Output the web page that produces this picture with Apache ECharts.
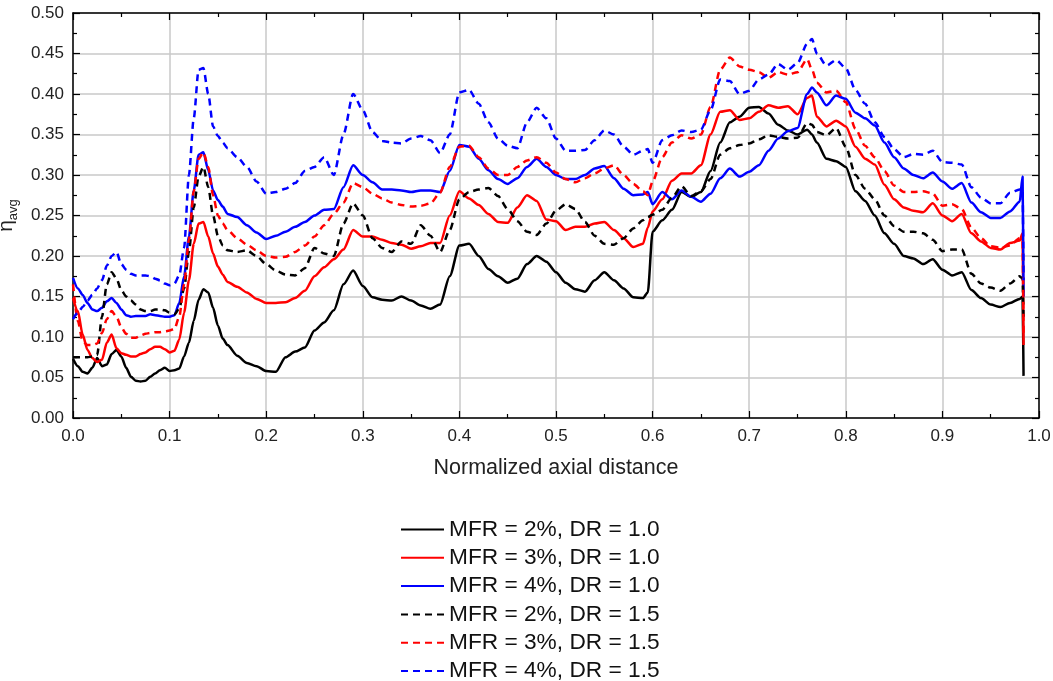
<!DOCTYPE html>
<html>
<head>
<meta charset="utf-8">
<script src="https://cdn.jsdelivr.net/npm/echarts@6/dist/echarts.min.js"></script>
<style>
html,body{margin:0;padding:0;background:#fff;}
#chart{width:1053px;height:681px;}
</style>
</head>
<body>
<div id="chart"></div>
<script>
// Normalized axial distance (shared sample positions)
const xs = [0,0.005,0.01,0.015,0.02,0.025,0.03,0.035,0.04,0.045,0.05,0.055,0.06,0.065,0.07,0.075,0.08,0.085,0.09,0.095,0.1,0.105,0.11,0.115,0.12,0.125,0.13,0.135,0.14,0.145,0.15,0.155,0.16,
0.17,0.18,0.19,0.2,0.21,0.22,0.23,0.24,0.25,0.26,0.27,0.28,0.29,0.3,0.31,0.32,0.33,
0.34,0.35,0.36,0.37,0.38,0.39,0.4,0.41,0.42,0.43,0.44,0.45,0.46,0.47,0.48,0.49,0.5,
0.51,0.52,0.53,0.54,0.55,0.56,0.57,0.58,0.59,0.595,
0.6,0.61,0.62,0.63,0.64,0.65,0.66,0.67,0.68,0.69,0.7,0.71,0.72,0.73,0.74,0.75,0.76,0.765,
0.77,0.78,0.79,0.8,0.81,0.82,0.83,0.84,0.85,0.86,0.87,0.88,0.89,0.9,0.91,0.92,0.93,0.94,0.95,0.96,0.97,0.98,0.983,0.984];

// MFR = 2%, DR = 1.0
const mfr2dr10 = [0.073,0.064,0.057,0.055,0.062,0.074,0.064,0.066,0.079,0.084,0.076,0.062,0.051,0.046,0.045,0.046,0.051,0.055,0.059,0.062,0.058,0.059,0.061,0.076,0.093,0.12,0.146,0.159,0.155,0.136,0.114,0.098,0.09,
0.077,0.068,0.064,0.058,0.057,0.075,0.082,0.087,0.108,0.118,0.133,0.165,0.182,0.163,0.149,0.146,0.145,
0.15,0.145,0.139,0.135,0.14,0.175,0.213,0.215,0.2,0.184,0.175,0.167,0.172,0.19,0.2,0.193,0.18,
0.167,0.159,0.156,0.17,0.18,0.17,0.16,0.149,0.148,0.155,
0.23,0.244,0.257,0.279,0.273,0.279,0.305,0.34,0.365,0.372,0.383,0.384,0.376,0.362,0.355,0.35,0.356,0.35,
0.34,0.32,0.317,0.31,0.28,0.268,0.25,0.228,0.215,0.2,0.197,0.19,0.196,0.183,0.176,0.18,0.158,0.148,0.14,0.137,0.142,0.147,0.15,0.052];

// MFR = 3%, DR = 1.0
const mfr3dr10 = [0.148,0.132,0.103,0.084,0.074,0.069,0.072,0.093,0.103,0.086,0.08,0.078,0.076,0.076,0.079,0.081,0.085,0.088,0.088,0.085,0.081,0.083,0.097,0.13,0.17,0.215,0.24,0.242,0.224,0.203,0.187,0.177,0.168,
0.162,0.155,0.147,0.142,0.142,0.143,0.148,0.157,0.175,0.186,0.196,0.208,0.232,0.224,0.224,0.22,0.216,
0.214,0.209,0.212,0.216,0.216,0.25,0.28,0.271,0.263,0.252,0.242,0.241,0.26,0.275,0.268,0.245,0.243,
0.232,0.236,0.236,0.24,0.242,0.232,0.222,0.211,0.215,0.235,
0.255,0.27,0.293,0.302,0.302,0.312,0.35,0.378,0.38,0.368,0.37,0.378,0.386,0.383,0.385,0.375,0.395,0.398,
0.372,0.36,0.367,0.36,0.335,0.32,0.313,0.288,0.27,0.26,0.256,0.254,0.265,0.25,0.243,0.252,0.228,0.218,0.21,0.208,0.216,0.219,0.228,0.09];

// MFR = 4%, DR = 1.0
const mfr4dr10 = [0.173,0.16,0.152,0.142,0.134,0.132,0.136,0.144,0.148,0.142,0.134,0.127,0.125,0.126,0.126,0.126,0.128,0.127,0.126,0.125,0.125,0.127,0.142,0.175,0.224,0.281,0.325,0.328,0.306,0.281,0.269,0.261,0.252,
0.248,0.238,0.229,0.221,0.225,0.23,0.236,0.242,0.25,0.257,0.258,0.285,0.312,0.3,0.291,0.282,0.282,
0.281,0.279,0.281,0.281,0.279,0.305,0.337,0.335,0.32,0.306,0.295,0.289,0.296,0.31,0.32,0.31,0.3,
0.295,0.295,0.3,0.308,0.311,0.296,0.283,0.275,0.276,0.279,
0.264,0.279,0.27,0.281,0.273,0.267,0.277,0.296,0.308,0.298,0.304,0.312,0.33,0.345,0.354,0.358,0.4,0.408,
0.402,0.386,0.398,0.394,0.377,0.37,0.361,0.34,0.322,0.308,0.3,0.296,0.303,0.292,0.283,0.29,0.266,0.254,0.247,0.247,0.255,0.267,0.298,0.15];

// MFR = 2%, DR = 1.5
const mfr2dr15 = [0.075,0.075,0.075,0.075,0.076,0.078,0.125,0.165,0.18,0.172,0.158,0.15,0.145,0.14,0.134,0.132,0.132,0.134,0.134,0.133,0.13,0.128,0.135,0.16,0.205,0.26,0.298,0.31,0.285,0.25,0.225,0.213,0.207,
0.205,0.207,0.2,0.19,0.182,0.177,0.176,0.185,0.21,0.203,0.2,0.24,0.265,0.25,0.222,0.21,0.205,
0.218,0.215,0.238,0.225,0.205,0.232,0.27,0.279,0.282,0.284,0.274,0.258,0.243,0.23,0.226,0.24,0.256,
0.264,0.258,0.242,0.225,0.215,0.214,0.222,0.234,0.244,0.248,
0.251,0.257,0.272,0.286,0.274,0.28,0.295,0.325,0.333,0.337,0.339,0.344,0.349,0.347,0.345,0.346,0.364,0.362,
0.353,0.349,0.358,0.335,0.3,0.283,0.27,0.25,0.237,0.23,0.23,0.228,0.22,0.206,0.208,0.208,0.178,0.166,0.161,0.157,0.166,0.175,0.172,0.12];

// MFR = 3%, DR = 1.5
const mfr3dr15 = [0.165,0.12,0.095,0.09,0.09,0.092,0.105,0.122,0.132,0.125,0.112,0.104,0.099,0.099,0.102,0.104,0.105,0.106,0.106,0.107,0.108,0.11,0.125,0.165,0.22,0.28,0.32,0.328,0.31,0.275,0.25,0.24,0.232,
0.222,0.214,0.207,0.2,0.198,0.199,0.205,0.213,0.224,0.238,0.252,0.266,0.29,0.285,0.277,0.271,0.266,
0.263,0.261,0.262,0.265,0.278,0.31,0.335,0.336,0.322,0.308,0.3,0.3,0.31,0.318,0.322,0.315,0.303,
0.295,0.291,0.296,0.302,0.308,0.312,0.3,0.289,0.28,0.275,
0.292,0.322,0.34,0.349,0.345,0.35,0.384,0.43,0.445,0.434,0.43,0.427,0.42,0.427,0.424,0.427,0.443,0.43,
0.414,0.402,0.404,0.39,0.357,0.336,0.322,0.305,0.287,0.279,0.279,0.28,0.277,0.262,0.264,0.258,0.235,0.222,0.212,0.21,0.213,0.222,0.218,0.1];

// MFR = 4%, DR = 1.5
const mfr4dr15 = [0.122,0.13,0.137,0.145,0.152,0.16,0.17,0.188,0.2,0.205,0.19,0.183,0.178,0.176,0.176,0.176,0.175,0.172,0.17,0.166,0.164,0.166,0.176,0.21,0.3,0.37,0.43,0.432,0.4,0.36,0.348,0.34,0.333,
0.322,0.31,0.292,0.277,0.279,0.283,0.29,0.305,0.31,0.322,0.3,0.35,0.4,0.38,0.353,0.342,0.34,
0.339,0.345,0.348,0.343,0.327,0.35,0.402,0.405,0.388,0.365,0.345,0.336,0.333,0.365,0.383,0.37,0.345,
0.33,0.33,0.331,0.343,0.355,0.35,0.335,0.325,0.33,0.332,
0.315,0.343,0.349,0.355,0.353,0.356,0.38,0.418,0.416,0.4,0.404,0.418,0.424,0.437,0.43,0.438,0.462,0.468,
0.45,0.435,0.442,0.432,0.405,0.388,0.365,0.347,0.332,0.322,0.326,0.325,0.33,0.316,0.315,0.313,0.285,0.272,0.265,0.265,0.278,0.282,0.282,0.17];

const seriesDefs = [
  {name: 'MFR = 2%, DR = 1.0', ys: mfr2dr10, color: '#000000', dash: 'solid'},
  {name: 'MFR = 3%, DR = 1.0', ys: mfr3dr10, color: '#ff0000', dash: 'solid'},
  {name: 'MFR = 4%, DR = 1.0', ys: mfr4dr10, color: '#0000ff', dash: 'solid'},
  {name: 'MFR = 2%, DR = 1.5', ys: mfr2dr15, color: '#000000', dash: [7, 5]},
  {name: 'MFR = 3%, DR = 1.5', ys: mfr3dr15, color: '#ff0000', dash: [7, 5]},
  {name: 'MFR = 4%, DR = 1.5', ys: mfr4dr15, color: '#0000ff', dash: [7, 5]}
];

const FONT = '"Liberation Sans", Arial, sans-serif';
const chart = echarts.init(document.getElementById('chart'), null, {renderer: 'canvas'});

const baseX = {
  type: 'value', min: 0, max: 1, interval: 0.1,
  axisLine: {show: true, onZero: false, lineStyle: {color: '#000', width: 1.5}},
  axisTick: {show: true, inside: true, length: 7, lineStyle: {color: '#000', width: 1.2}},
  minorTick: {show: true, splitNumber: 2, length: 4, lineStyle: {color: '#000', width: 1.2}},
};
const baseY = {
  type: 'value', min: 0, max: 0.5, interval: 0.05,
  axisLine: {show: true, onZero: false, lineStyle: {color: '#000', width: 1.5}},
  axisTick: {show: true, inside: true, length: 7, lineStyle: {color: '#000', width: 1.2}},
  minorTick: {show: true, splitNumber: 2, length: 4, lineStyle: {color: '#000', width: 1.2}},
};

chart.setOption({
  animation: false,
  backgroundColor: '#fff',
  grid: {left: 73, right: 14, top: 13, bottom: 263, containLabel: false, outerBoundsMode: 'none'},
  xAxis: [
    Object.assign({}, baseX, {
      position: 'bottom',
      name: 'Normalized axial distance', nameLocation: 'middle', nameGap: 39,
      nameTextStyle: {fontFamily: FONT, fontSize: 21.5, color: '#222'},
      axisLabel: {show: true, margin: 10, fontFamily: FONT, fontSize: 17, color: '#222',
        formatter: v => v.toFixed(1)},
      splitLine: {show: true, lineStyle: {color: '#c8c8c8', width: 1.5}}
    }),
    Object.assign({}, baseX, {
      position: 'top', axisLabel: {show: false}, splitLine: {show: false}
    })
  ],
  yAxis: [
    Object.assign({}, baseY, {
      position: 'left',
      name: '{e|η}{s|avg}', nameLocation: 'middle', nameGap: 42, nameRotate: 90,
      nameTextStyle: {fontFamily: FONT, color: '#222',
        rich: {
          e: {fontFamily: FONT, fontSize: 21, color: '#222', lineHeight: 24, verticalAlign: 'top'},
          s: {fontFamily: FONT, fontSize: 13, color: '#222', lineHeight: 24, verticalAlign: 'bottom', padding: [10, 0, 0, 0]}
        }},
      axisLabel: {show: true, margin: 9, fontFamily: FONT, fontSize: 17, color: '#222',
        formatter: v => v.toFixed(2)},
      splitLine: {show: true, lineStyle: {color: '#c8c8c8', width: 1.5}}
    }),
    Object.assign({}, baseY, {
      position: 'right', axisLabel: {show: false}, splitLine: {show: false}
    })
  ],
  legend: {
    show: true, orient: 'vertical', left: 400, top: 518, height: 170, padding: 0,
    itemWidth: 43, itemHeight: 14, itemGap: 5.3,
    itemStyle: {color: 'rgba(0,0,0,0)', borderColor: 'rgba(0,0,0,0)', borderWidth: 0, opacity: 0},
    textStyle: {fontFamily: FONT, fontSize: 22.7, color: '#111'},
    data: seriesDefs.map(s => s.name)
  },
  series: seriesDefs.map(s => ({
    name: s.name,
    type: 'line',
    xAxisIndex: 0, yAxisIndex: 0,
    data: xs.map((x, i) => [x, s.ys[i]]),
    symbol: 'none',
    showSymbol: false,
    smooth: 0.25,
    smoothMonotone: 'x',
    lineStyle: {color: s.color, width: 2.5, type: s.dash},
    itemStyle: {color: s.color},
    emphasis: {disabled: true}
  }))
});
</script>
</body>
</html>
